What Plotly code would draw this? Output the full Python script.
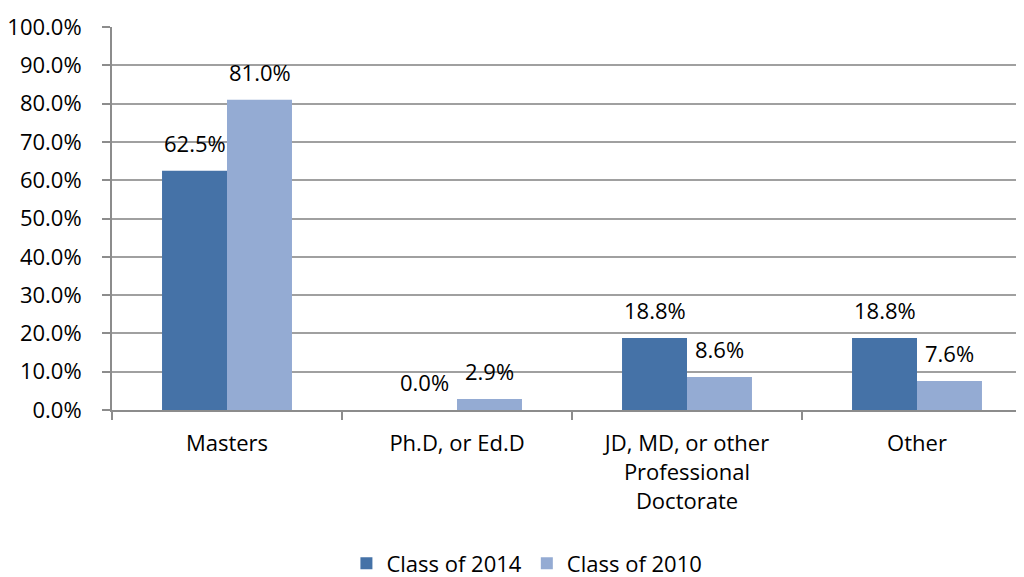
import plotly.graph_objects as go

categories = ["Masters", "Ph.D, or Ed.D", "JD, MD, or other<br>Professional<br>Doctorate", "Other"]
class_2014 = [62.5, 0.0, 18.8, 18.8]
class_2010 = [81.0, 2.9, 8.6, 7.6]
y_ticks = [0, 10, 20, 30, 40, 50, 60, 70, 80, 90, 100]

font = "'Open Sans', 'Noto Sans', sans-serif"
size = 22

fig = go.Figure()
fig.add_trace(go.Bar(x=categories, y=class_2014, name="Class of 2014",
    marker=dict(color="#4572A7", line=dict(width=0))))
fig.add_trace(go.Bar(x=categories, y=class_2010, name="Class of 2010",
    marker=dict(color="#94ABD3", line=dict(width=0))))

# data labels, centred above each bar
for vals, shift in [(class_2014, -32.5), (class_2010, 32.5)]:
    for cat, v in zip(categories, vals):
        fig.add_annotation(x=cat, y=v, text=f"{v:.1f}%", showarrow=False,
                           xshift=shift, yshift=28, yanchor="middle",
                           font=dict(size=size, color="#000000"))

# the page body adds 8px on the left
fig.update_layout(
    width=1024, height=577,
    margin=dict(l=104, r=0, t=19, b=168),
    paper_bgcolor="white", plot_bgcolor="white",
    font=dict(family=font, size=size, color="#000000"),
    barmode="group", bargap=0.435, bargroupgap=0,
    showlegend=True,
    legend=dict(orientation="h", x=0.451, xanchor="center", y=-0.346, yanchor="top",
                font=dict(size=size), itemwidth=30, traceorder="normal"),
)
fig.update_xaxes(
    range=[-0.5, 3.5], showgrid=False, automargin=False,
    showline=True, linecolor="#8C8C8C", linewidth=2,
    ticks="outside", tickson="boundaries", ticklen=8, tickcolor="#8C8C8C", tickwidth=2,
    tickfont=dict(size=size), ticklabelstandoff=13,
)
fig.update_yaxes(
    range=[0, 100], tickvals=y_ticks, ticktext=[f"{v:.1f}%" for v in y_ticks],
    showgrid=True, gridcolor="#A0A0A0", gridwidth=2, automargin=False,
    showline=True, linecolor="#8C8C8C", linewidth=2,
    ticks="outside", ticklen=8, tickcolor="#8C8C8C", tickwidth=2,
    tickfont=dict(size=size), zeroline=False, ticklabelstandoff=16,
)

fig.write_html("out.html")
